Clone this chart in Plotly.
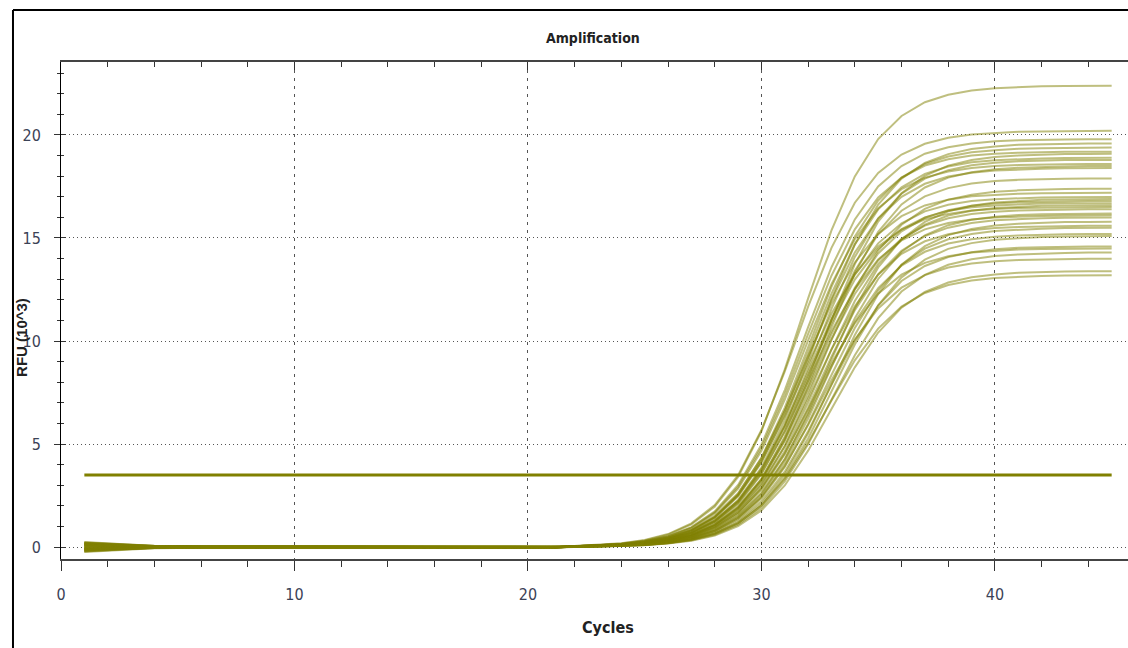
import plotly.graph_objects as go

# ---------------- data ----------------
BASE_CYCLES = [1, 2, 3, 4, 6, 10, 14, 18, 21]
RISE_CYCLES = list(range(22, 46))
THRESHOLD = 3.5
X_TICKS = [0, 10, 20, 30, 40]
Y_TICKS = [0, 5, 10, 15, 20]

BASELINE = [
    [0.24, 0.17, 0.10, 0.05, 0.03, 0.02, 0.01, -0.01, -0.02],
    [-0.22, -0.15, -0.09, -0.05, -0.03, -0.02, -0.02, -0.03, -0.02],
    [0.12, 0.08, 0.05, 0.03, 0.02, 0.03, 0.02, 0.00, -0.01],
    [-0.10, -0.07, -0.05, -0.03, -0.02, 0.00, 0.01, -0.01, -0.02],
    [0.18, 0.13, 0.08, 0.04, 0.02, 0.01, 0.03, 0.01, 0.00],
    [-0.16, -0.12, -0.08, -0.04, -0.03, -0.01, -0.01, -0.02, -0.03],
    [0.05, 0.04, 0.02, 0.01, 0.00, 0.02, 0.01, -0.01, -0.01],
    [-0.04, -0.03, -0.02, -0.02, -0.01, 0.00, 0.00, -0.02, -0.02],
    [0.21, 0.15, 0.09, 0.05, 0.03, 0.02, 0.02, 0.00, -0.01],
    [-0.19, -0.13, -0.08, -0.05, -0.04, -0.02, -0.01, -0.02, -0.03],
    [0.08, 0.06, 0.04, 0.02, 0.01, 0.01, 0.02, 0.00, -0.01],
    [-0.07, -0.05, -0.03, -0.02, -0.01, -0.01, 0.00, -0.01, -0.02],
    [0.15, 0.11, 0.07, 0.04, 0.02, 0.02, 0.03, 0.01, 0.00],
    [-0.13, -0.09, -0.06, -0.04, -0.03, -0.02, -0.01, -0.02, -0.02],
    [0.02, 0.02, 0.01, 0.01, 0.01, 0.02, 0.02, 0.00, -0.01],
    [-0.02, -0.01, -0.01, -0.01, 0.00, 0.01, 0.00, -0.01, -0.02],
    [0.22, 0.16, 0.11, 0.06, 0.04, 0.03, 0.02, 0.00, -0.01],
    [-0.24, -0.17, -0.10, -0.06, -0.04, -0.02, -0.02, -0.03, -0.03],
    [0.10, 0.07, 0.04, 0.02, 0.01, 0.00, 0.01, -0.01, -0.01],
    [-0.09, -0.06, -0.04, -0.03, -0.02, -0.01, 0.00, -0.02, -0.02],
    [0.16, 0.12, 0.07, 0.04, 0.03, 0.02, 0.02, 0.01, 0.00],
    [-0.14, -0.10, -0.06, -0.04, -0.02, -0.01, -0.01, -0.02, -0.03],
    [0.06, 0.05, 0.03, 0.02, 0.02, 0.03, 0.02, 0.00, -0.01],
    [-0.05, -0.04, -0.03, -0.02, -0.01, 0.00, 0.01, -0.01, -0.02],
    [0.20, 0.14, 0.09, 0.05, 0.03, 0.02, 0.01, 0.00, -0.01],
    [-0.20, -0.14, -0.09, -0.05, -0.03, -0.02, -0.02, -0.02, -0.03],
    [0.13, 0.09, 0.06, 0.03, 0.02, 0.01, 0.02, 0.00, -0.01],
    [-0.12, -0.08, -0.05, -0.03, -0.02, -0.01, 0.00, -0.01, -0.02],
    [0.09, 0.07, 0.04, 0.03, 0.02, 0.02, 0.01, 0.00, -0.01],
    [-0.08, -0.06, -0.04, -0.02, -0.01, 0.00, -0.01, -0.02, -0.02],
    [0.17, 0.12, 0.08, 0.05, 0.03, 0.02, 0.02, 0.00, 0.00],
    [-0.17, -0.12, -0.07, -0.04, -0.03, -0.02, -0.01, -0.02, -0.02],
    [0.03, 0.03, 0.02, 0.01, 0.01, 0.01, 0.01, -0.01, -0.01],
    [-0.03, -0.02, -0.02, -0.01, -0.01, 0.00, 0.00, -0.01, -0.02],
    [0.11, 0.08, 0.05, 0.03, 0.02, 0.01, 0.02, 0.00, -0.01],
    [-0.11, -0.08, -0.05, -0.03, -0.02, -0.01, -0.01, -0.02, -0.02],
]

RISE = [
    [0.05, 0.09, 0.17, 0.32, 0.60, 1.10, 1.96, 3.40, 5.62, 8.62, 12.07, 15.37, 17.99, 19.80, 20.92, 21.59, 21.95, 22.16, 22.27, 22.33, 22.36, 22.38, 22.39, 22.39],
    [0.05, 0.10, 0.18, 0.34, 0.63, 1.15, 2.04, 3.49, 5.68, 8.53, 11.67, 14.52, 16.71, 18.16, 19.05, 19.57, 19.86, 20.02, 20.10, 20.15, 20.17, 20.18, 20.19, 20.20],
    [0.04, 0.08, 0.15, 0.29, 0.53, 0.97, 1.73, 3.01, 4.97, 7.62, 10.67, 13.58, 15.90, 17.50, 18.49, 19.09, 19.40, 19.59, 19.69, 19.74, 19.77, 19.78, 19.79, 19.79],
    [0.03, 0.06, 0.11, 0.21, 0.39, 0.71, 1.29, 2.27, 3.86, 6.15, 9.04, 12.05, 14.68, 16.62, 17.88, 18.64, 19.07, 19.32, 19.44, 19.52, 19.55, 19.58, 19.59, 19.59],
    [0.04, 0.07, 0.13, 0.24, 0.45, 0.82, 1.47, 2.58, 4.33, 6.77, 9.70, 12.63, 15.07, 16.82, 17.93, 18.59, 18.95, 19.16, 19.26, 19.33, 19.36, 19.38, 19.39, 19.39],
    [0.04, 0.08, 0.15, 0.28, 0.51, 0.94, 1.68, 2.92, 4.82, 7.39, 10.35, 13.17, 15.42, 16.97, 17.93, 18.51, 18.82, 19.00, 19.09, 19.14, 19.17, 19.18, 19.19, 19.19],
    [0.03, 0.05, 0.09, 0.17, 0.32, 0.59, 1.08, 1.93, 3.30, 5.37, 8.07, 11.03, 13.73, 15.80, 17.17, 18.01, 18.51, 18.78, 18.93, 19.00, 19.05, 19.07, 19.08, 19.09],
    [0.04, 0.07, 0.13, 0.23, 0.43, 0.80, 1.43, 2.51, 4.21, 6.60, 9.45, 12.30, 14.69, 16.39, 17.46, 18.11, 18.47, 18.67, 18.77, 18.83, 18.86, 18.88, 18.89, 18.89],
    [0.03, 0.06, 0.11, 0.20, 0.37, 0.68, 1.23, 2.18, 3.70, 5.90, 8.67, 11.56, 14.08, 15.94, 17.15, 17.88, 18.29, 18.53, 18.65, 18.72, 18.76, 18.78, 18.79, 18.79],
    [0.04, 0.08, 0.15, 0.27, 0.50, 0.91, 1.63, 2.83, 4.67, 7.16, 10.03, 12.76, 14.94, 16.44, 17.37, 17.93, 18.23, 18.40, 18.49, 18.54, 18.57, 18.58, 18.59, 18.59],
    [0.03, 0.05, 0.09, 0.17, 0.31, 0.58, 1.05, 1.87, 3.20, 5.20, 7.82, 10.68, 13.30, 15.30, 16.63, 17.45, 17.93, 18.19, 18.33, 18.41, 18.45, 18.47, 18.49, 18.49],
    [0.04, 0.07, 0.12, 0.23, 0.42, 0.77, 1.40, 2.45, 4.10, 6.42, 9.20, 11.98, 14.30, 15.95, 17.00, 17.63, 17.98, 18.17, 18.27, 18.33, 18.36, 18.38, 18.39, 18.39],
    [0.03, 0.06, 0.10, 0.19, 0.35, 0.65, 1.17, 2.08, 3.53, 5.62, 8.25, 11.01, 13.41, 15.18, 16.32, 17.02, 17.42, 17.64, 17.76, 17.82, 17.86, 17.88, 17.89, 17.89],
    [0.02, 0.05, 0.09, 0.16, 0.29, 0.54, 0.99, 1.76, 3.01, 4.89, 7.35, 10.05, 12.51, 14.39, 15.64, 16.41, 16.86, 17.10, 17.24, 17.31, 17.35, 17.38, 17.39, 17.39],
    [0.04, 0.07, 0.13, 0.25, 0.46, 0.84, 1.51, 2.61, 4.32, 6.62, 9.27, 11.80, 13.81, 15.20, 16.06, 16.58, 16.86, 17.02, 17.10, 17.15, 17.17, 17.18, 17.19, 17.19],
    [0.03, 0.06, 0.11, 0.21, 0.39, 0.72, 1.29, 2.26, 3.79, 5.93, 8.50, 11.07, 13.21, 14.74, 15.71, 16.29, 16.61, 16.79, 16.88, 16.94, 16.97, 16.98, 16.99, 16.99],
    [0.02, 0.04, 0.07, 0.13, 0.25, 0.45, 0.83, 1.48, 2.57, 4.24, 6.51, 9.11, 11.59, 13.57, 14.94, 15.78, 16.29, 16.56, 16.72, 16.80, 16.85, 16.87, 16.88, 16.89],
    [0.03, 0.05, 0.10, 0.18, 0.33, 0.61, 1.10, 1.95, 3.31, 5.28, 7.74, 10.33, 12.58, 14.25, 15.32, 15.98, 16.35, 16.56, 16.67, 16.73, 16.76, 16.78, 16.79, 16.79],
    [0.03, 0.06, 0.11, 0.21, 0.38, 0.70, 1.27, 2.22, 3.72, 5.83, 8.35, 10.87, 12.98, 14.48, 15.43, 16.00, 16.32, 16.49, 16.58, 16.64, 16.67, 16.68, 16.69, 16.69],
    [0.02, 0.04, 0.08, 0.15, 0.28, 0.52, 0.94, 1.67, 2.87, 4.66, 7.01, 9.59, 11.94, 13.73, 14.92, 15.65, 16.09, 16.32, 16.45, 16.52, 16.56, 16.58, 16.59, 16.59],
    [0.04, 0.07, 0.13, 0.24, 0.44, 0.81, 1.45, 2.51, 4.14, 6.35, 8.89, 11.32, 13.25, 14.59, 15.41, 15.91, 16.17, 16.33, 16.41, 16.45, 16.47, 16.49, 16.49, 16.50],
    [0.03, 0.05, 0.09, 0.17, 0.32, 0.59, 1.08, 1.90, 3.23, 5.15, 7.56, 10.09, 12.28, 13.91, 14.96, 15.60, 15.96, 16.16, 16.27, 16.33, 16.36, 16.38, 16.39, 16.39],
    [0.02, 0.04, 0.07, 0.13, 0.23, 0.43, 0.79, 1.42, 2.46, 4.07, 6.24, 8.73, 11.11, 13.01, 14.32, 15.13, 15.62, 15.88, 16.03, 16.11, 16.15, 16.17, 16.19, 16.19],
    [0.03, 0.06, 0.11, 0.20, 0.37, 0.68, 1.22, 2.14, 3.59, 5.62, 8.05, 10.48, 12.51, 13.96, 14.88, 15.42, 15.73, 15.90, 15.99, 16.04, 16.07, 16.08, 16.09, 16.10],
    [0.02, 0.04, 0.08, 0.15, 0.27, 0.50, 0.91, 1.61, 2.77, 4.50, 6.76, 9.24, 11.50, 13.23, 14.38, 15.09, 15.50, 15.73, 15.86, 15.92, 15.96, 15.98, 15.99, 15.99],
    [0.02, 0.03, 0.06, 0.11, 0.20, 0.36, 0.67, 1.20, 2.10, 3.52, 5.51, 7.90, 10.29, 12.28, 13.70, 14.60, 15.14, 15.44, 15.60, 15.69, 15.74, 15.77, 15.78, 15.79],
    [0.03, 0.05, 0.09, 0.17, 0.31, 0.56, 1.02, 1.81, 3.07, 4.90, 7.19, 9.59, 11.68, 13.23, 14.23, 14.84, 15.18, 15.37, 15.48, 15.53, 15.56, 15.58, 15.59, 15.59],
    [0.02, 0.03, 0.07, 0.12, 0.22, 0.42, 0.76, 1.36, 2.36, 3.89, 5.97, 8.35, 10.63, 12.45, 13.70, 14.48, 14.94, 15.19, 15.34, 15.41, 15.45, 15.48, 15.49, 15.49],
    [0.02, 0.04, 0.07, 0.14, 0.26, 0.47, 0.86, 1.53, 2.63, 4.27, 6.42, 8.78, 10.93, 12.57, 13.66, 14.33, 14.73, 14.94, 15.06, 15.12, 15.16, 15.18, 15.19, 15.19],
    [0.02, 0.03, 0.05, 0.10, 0.19, 0.35, 0.64, 1.15, 2.01, 3.37, 5.27, 7.55, 9.83, 11.73, 13.09, 13.95, 14.47, 14.75, 14.91, 14.99, 15.05, 15.07, 15.08, 15.09],
    [0.02, 0.03, 0.06, 0.11, 0.21, 0.39, 0.71, 1.28, 2.22, 3.66, 5.62, 7.87, 10.02, 11.72, 12.91, 13.64, 14.07, 14.31, 14.45, 14.52, 14.55, 14.58, 14.59, 14.59],
    [0.02, 0.04, 0.08, 0.15, 0.29, 0.52, 0.95, 1.68, 2.86, 4.55, 6.68, 8.92, 10.86, 12.30, 13.22, 13.79, 14.11, 14.29, 14.38, 14.44, 14.47, 14.48, 14.49, 14.49],
    [0.01, 0.03, 0.05, 0.10, 0.18, 0.33, 0.60, 1.09, 1.90, 3.19, 4.99, 7.15, 9.31, 11.11, 12.40, 13.21, 13.70, 13.97, 14.12, 14.20, 14.25, 14.27, 14.29, 14.29],
    [0.02, 0.04, 0.07, 0.13, 0.24, 0.44, 0.79, 1.41, 2.42, 3.93, 5.92, 8.09, 10.07, 11.58, 12.59, 13.20, 13.57, 13.76, 13.87, 13.93, 13.96, 13.98, 13.99, 13.99],
    [0.01, 0.03, 0.05, 0.09, 0.17, 0.31, 0.56, 1.02, 1.78, 2.99, 4.68, 6.70, 8.72, 10.41, 11.62, 12.38, 12.84, 13.09, 13.23, 13.31, 13.35, 13.37, 13.39, 13.39],
    [0.02, 0.03, 0.06, 0.10, 0.19, 0.35, 0.65, 1.16, 2.01, 3.31, 5.08, 7.11, 9.06, 10.60, 11.67, 12.33, 12.72, 12.94, 13.06, 13.12, 13.16, 13.18, 13.19, 13.19],
]

# ---------------- figure ----------------
CYCLES = BASE_CYCLES + RISE_CYCLES
LINE_COLOR = "rgba(128,128,0,0.5)"
NARROW = "DejaVu Sans Condensed, Liberation Sans Narrow, Arial Narrow, Liberation Sans, sans-serif"
TICK_FONT = dict(family=NARROW, size=16, color="#3b4256")

fig = go.Figure()
for base, rise in zip(BASELINE, RISE):
    fig.add_trace(go.Scatter(
        x=CYCLES, y=base + rise, mode="lines",
        line=dict(color=LINE_COLOR, width=2),
        hoverinfo="skip", showlegend=False))

fig.add_trace(go.Scatter(
    x=[CYCLES[0], CYCLES[-1]], y=[THRESHOLD, THRESHOLD], mode="lines",
    line=dict(color="rgb(128,128,0)", width=3),
    hoverinfo="skip", showlegend=False))

# helper invisible traces so that mirror axes get drawn
fig.add_trace(go.Scatter(x=[CYCLES[0]], y=[THRESHOLD], xaxis="x2", yaxis="y",
                         mode="markers", marker=dict(opacity=0), hoverinfo="skip", showlegend=False))
fig.add_trace(go.Scatter(x=[CYCLES[0]], y=[THRESHOLD], xaxis="x", yaxis="y2",
                         mode="markers", marker=dict(opacity=0), hoverinfo="skip", showlegend=False))

XR = [0, 45.7]
YR = [-0.58, 23.54]

fig.update_layout(
    width=1128, height=648,
    margin=dict(l=61, r=0, t=62, b=89, autoexpand=False),
    paper_bgcolor="white", plot_bgcolor="white",
    xaxis=dict(
        range=XR, tickmode="array", tickvals=X_TICKS,
        showline=True, linecolor="#444", linewidth=2,
        ticks="outside", ticklen=10, tickwidth=1, tickcolor="#333",
        minor=dict(dtick=2, tick0=0, ticks="outside", ticklen=6, tickcolor="#333", showgrid=False),
        showgrid=True, gridcolor="#555", gridwidth=1, griddash="3px,5px",
        zeroline=False, tickfont=TICK_FONT, ticklabelstandoff=10,
    ),
    xaxis2=dict(
        range=XR, overlaying="x", side="top", anchor="y",
        showline=True, linecolor="#444", linewidth=2,
        ticks="inside", tickvals=X_TICKS, ticklen=8, tickcolor="#333",
        minor=dict(dtick=2, tick0=0, ticks="inside", ticklen=5, tickcolor="#333", showgrid=False),
        showticklabels=False, showgrid=False, zeroline=False,
    ),
    yaxis=dict(
        range=YR, tickmode="array", tickvals=Y_TICKS,
        showline=True, linecolor="black", linewidth=1,
        ticks="outside", ticklen=6, tickcolor="#333",
        minor=dict(dtick=1, tick0=0, ticks="outside", ticklen=3, tickcolor="#333", showgrid=False),
        showgrid=True, gridcolor="#555", gridwidth=1, griddash="1px,3px",
        zeroline=False, tickfont=TICK_FONT, ticklabelstandoff=10,
    ),
    yaxis2=dict(
        range=YR, overlaying="y", side="left", anchor="x",
        showline=False, ticks="inside", tickvals=Y_TICKS, ticklen=5, tickcolor="#333",
        minor=dict(dtick=1, tick0=0, ticks="inside", ticklen=3, tickcolor="#333", showgrid=False),
        showticklabels=False, showgrid=False, zeroline=False,
    ),
    annotations=[
        dict(text="<b>Amplification</b>", xref="paper", yref="paper", x=0.4986, y=1.0483,
             xanchor="center", yanchor="middle", showarrow=False,
             font=dict(family=NARROW, size=14, color="#222")),
        dict(text="<b>RFU (10^3)</b>", xref="paper", yref="paper", x=-0.0366, y=0.4467,
             xanchor="center", yanchor="middle", showarrow=False, textangle=-90,
             font=dict(family="Liberation Sans, Arial, sans-serif", size=15, color="#222")),
        dict(text="<b>Cycles</b>", xref="paper", yref="paper", x=0.5127, y=-0.1388,
             xanchor="center", yanchor="middle", showarrow=False,
             font=dict(family=NARROW, size=16, color="#222")),
    ],
    shapes=[
        dict(type="line", xref="paper", yref="paper", x0=-0.045, x1=-0.045, y0=-0.2, y1=1.1046,
             line=dict(color="black", width=2)),
        dict(type="line", xref="paper", yref="paper", x0=-0.045, x1=1.01, y0=1.1046, y1=1.1046,
             line=dict(color="black", width=2)),
    ],
)

fig.write_html("out.html")
